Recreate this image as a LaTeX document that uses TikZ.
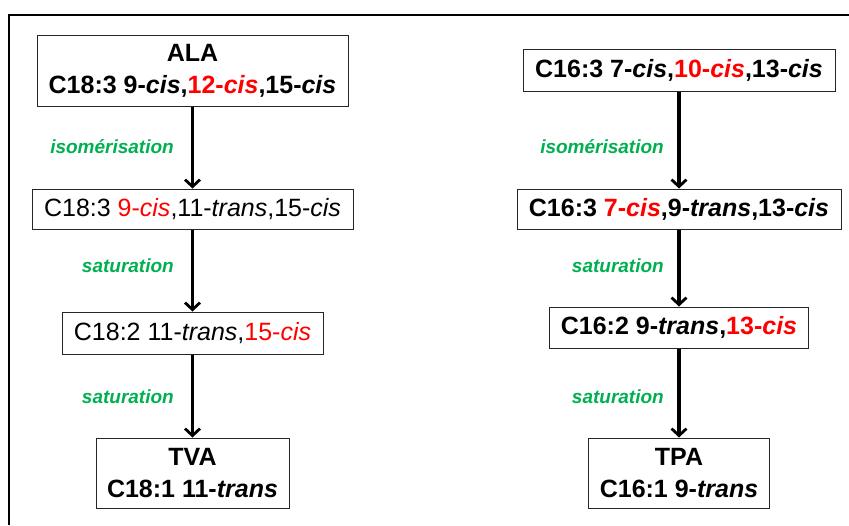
\documentclass[tikz,border=0pt]{standalone}
\usepackage{fontspec}
\setmainfont{Liberation Sans}
\usepackage{tikz}
\usetikzlibrary{arrows.meta}
\definecolor{lblgreen}{RGB}{0,176,80}
\tikzstyle{bx}=[draw=black!85,line width=1pt,inner sep=0pt,align=center,font=\fontsize{25}{32}\selectfont]
\tikzstyle{lbl}=[anchor=east,inner sep=0pt,text=lblgreen,font=\fontsize{19}{23}\selectfont\bfseries\itshape]
\tikzstyle{arr}=[line width=3.2pt,-{Straight Barb[length=7pt,width=15pt,line width=2.8pt]}]

\begin{document}
\begin{tikzpicture}[x=1pt,y=-1pt]
\useasboundingbox (0,0) rectangle (849,525);
\draw[line width=2pt] (9,525) -- (9,15) -- (849,15);
% left chain
\node[bx,minimum width=311,minimum height=71] (ala) at (192.5,71) {\bfseries ALA\\\bfseries C18:3 9-\textit{cis},\textcolor{red}{12-\textit{cis}},15-\textit{cis}};
\node[bx,minimum width=321,minimum height=40] (l2) at (192.5,209) {C18:3 \textcolor{red}{9-\textit{cis}},11-\textit{trans},15-\textit{cis}};
\node[bx,minimum width=261,minimum height=42] (l3) at (192.5,333) {C18:2 11-\textit{trans},\textcolor{red}{15-\textit{cis}}};
\node[bx,minimum width=193,minimum height=70] (tva) at (192.5,473) {\bfseries TVA\\\bfseries C18:1 11-\textit{trans}};
% right chain
\node[bx,minimum width=312,minimum height=42] (r1) at (679,70) {\bfseries C16:3 7-\textit{cis},\textcolor{red}{10-\textit{cis}},13-\textit{cis}};
\node[bx,minimum width=324,minimum height=40] (r2) at (679,209) {\bfseries C16:3 \textcolor{red}{7-\textit{cis}},9-\textit{trans},13-\textit{cis}};
\node[bx,minimum width=259,minimum height=41] (r3) at (679,327.5) {\bfseries C16:2 9-\textit{trans},\textcolor{red}{13-\textit{cis}}};
\node[bx,minimum width=181,minimum height=70] (tpa) at (679,473) {\bfseries TPA\\\bfseries C16:1 9-\textit{trans}};
% labels
\node[lbl] (iso1) at (174,147) {isomérisation};
\node[lbl] (sat1) at (174,266) {saturation};
\node[lbl] (sat2) at (174,397) {saturation};
\node[lbl] (iso2) at (664,147) {isomérisation};
\node[lbl] (sat3) at (664,266) {saturation};
\node[lbl] (sat4) at (664,397) {saturation};
% arrows
\draw[arr] (ala) -- (l2);
\draw[arr] (l2) -- (l3);
\draw[arr] (l3) -- (tva);
\draw[arr] (r1) -- (r2);
\draw[arr] (r2) -- (r3);
\draw[arr] (r3) -- (tpa);
\end{tikzpicture}
\end{document}
